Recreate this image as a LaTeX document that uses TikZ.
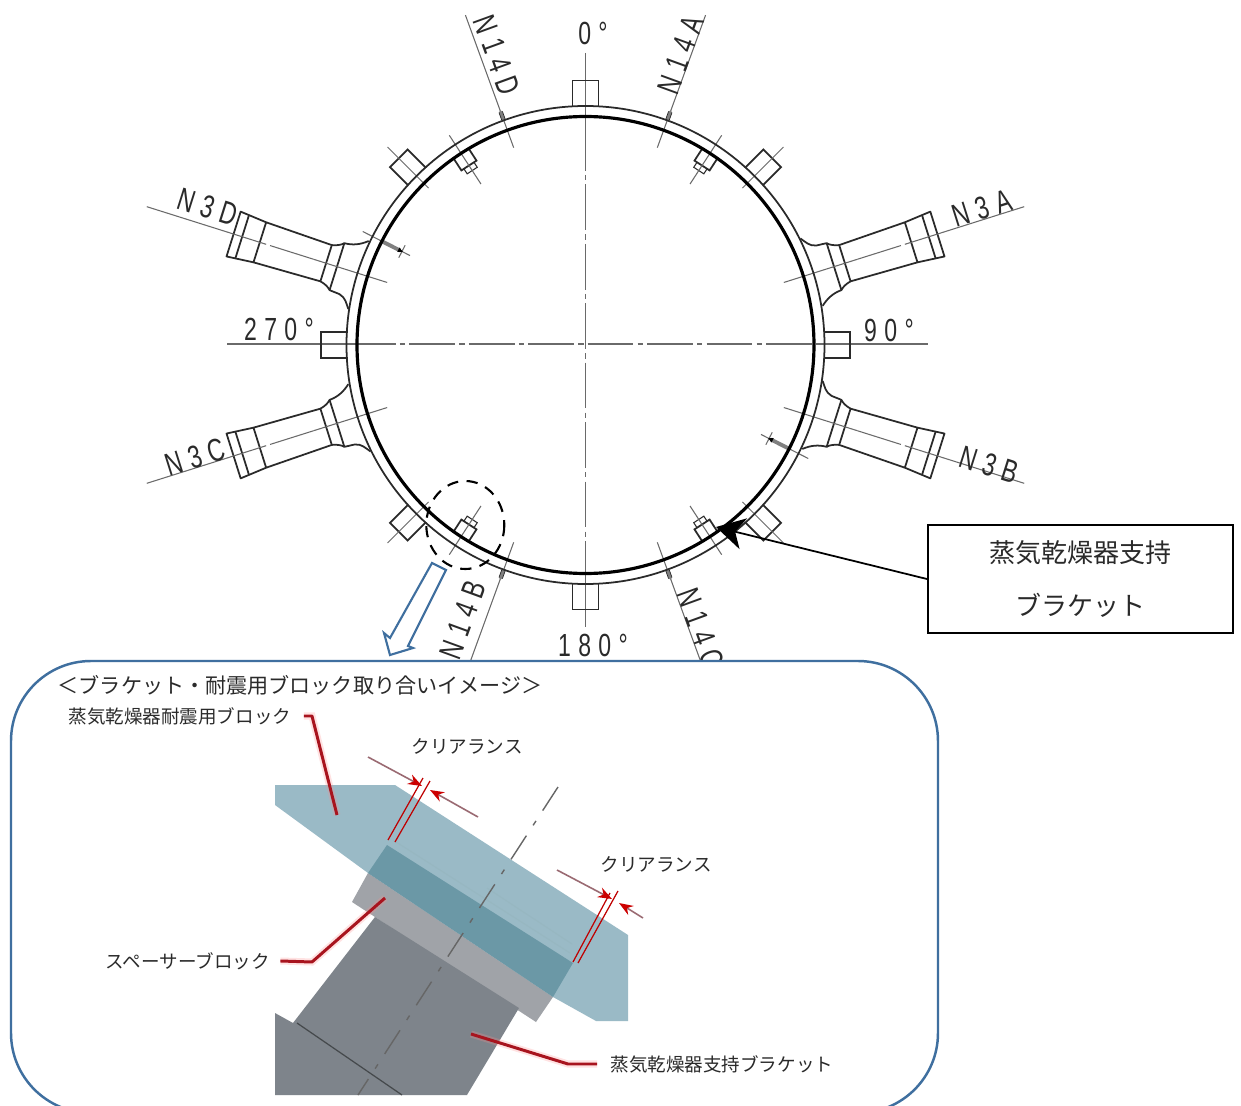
\documentclass[tikz,border=0pt]{standalone}
\usepackage{fontspec}
\setmainfont{Liberation Sans}
\newfontfamily\cjk{Noto Sans CJK JP}
\newfontfamily\techfont[LetterSpace=32]{Liberation Sans}
\usetikzlibrary{arrows.meta}
\definecolor{panelblue}{HTML}{3F6F9F}
\definecolor{blocklight}{HTML}{9ABAC6}
\definecolor{bandteal}{HTML}{6B98A6}
\definecolor{spacergray}{HTML}{A0A3A8}
\definecolor{bracketgray}{HTML}{7E848B}
\definecolor{leaderred}{HTML}{A8141E}
\definecolor{dimmuted}{HTML}{9A6A72}
\definecolor{inkdark}{HTML}{2A2A2A}
\tikzset{
  thinl/.style={draw=inkdark,line width=0.5pt},
  axisl/.style={draw=inkdark!70,line width=0.3pt},
  dashdotl/.style={axisl,dash pattern=on 13pt off 1.2pt on 1.5pt off 1.2pt},
  tech/.style={inner sep=0pt,text=inkdark,font=\fontsize{9.1}{11}\techfont},
  jp/.style={inner sep=0pt,text=inkdark,font=\fontsize{5.27}{7}\cjk},
  leader/.style={draw=leaderred,line width=0.85pt,line join=round,
    preaction={draw=red!45,line width=2pt,opacity=.25}},
  dimline/.style={draw=dimmuted,line width=0.45pt,-{Stealth[length=4pt,width=3pt,color=red!80!black]}},
  extl/.style={draw=red!75!black,line width=0.35pt},
}
\newcommand{\tk}[1]{\scalebox{.72}[1]{#1}}
% compass angle frame: local (w,-r)
\newcommand{\cardstub}[1]{\begin{scope}[shift={(585.5,345)},rotate=-#1]
  \draw[thinl] (-13,-238) -- (-13,-264.5) -- (13,-264.5) -- (13,-238);
\end{scope}}
\newcommand{\stub}[1]{\begin{scope}[shift={(585.5,345)},rotate=-#1]
  \draw[thinl] (-12.5,-238) -- (-12.5,-264) -- (12.5,-264) -- (12.5,-238);
  \draw[axisl] (0,-222) -- (0,-280);
\end{scope}}
\newcommand{\brk}[1]{\begin{scope}[shift={(585.5,345)},rotate=-#1]
  \draw[thinl] (-9,-228) -- (-9,-214) -- (9,-214) -- (9,-228);
  \draw[thinl,line width=.3pt] (-6,-214) -- (-6,-208) -- (6,-208) -- (6,-214);
  \draw[axisl] (0,-192) -- (0,-250);
\end{scope}}
\newcommand{\nfourteen}[1]{\begin{scope}[shift={(585.5,345)},rotate=-#1]
  \draw[axisl] (0,-210) -- (0,-351);
  \draw[draw=gray,line width=1pt,line cap=round] (0,-240) -- (0,-248);
  \draw[draw=inkdark,line width=.2pt] (-1.8,-240) -- (-1.8,-248) (1.8,-240) -- (1.8,-248);
\end{scope}}
\newcommand{\nozzle}[1]{\begin{scope}[shift={(585.5,345)},rotate=-#1]
  \draw[thinl,line join=round]
    (-37,-237) .. controls (-32,-241) and (-27,-243) .. (-25.5,-250)
    .. controls (-25,-254) and (-25,-258) .. (-24.6,-260.6)
    .. controls (-22,-263) and (-20,-267) .. (-19,-272)
    -- (-21,-341.5) -- (-23.5,-369) -- (23.5,-369) -- (21,-341.5) -- (19,-272)
    .. controls (20,-267) and (22,-263) .. (24.6,-260.6)
    .. controls (25,-252) and (28,-245) .. (34,-238);
  \draw[thinl] (-24.6,-260.6) -- (24.6,-260.6)
    (-19,-272) -- (19,-272)
    (-21,-341.5) -- (21,-341.5)
    (-23,-360) -- (23,-360);
  \draw[axisl] (0,-208) -- (0,-285);
  \draw[dashdotl] (0,-285) -- (0,-335);
  \draw[axisl] (0,-335) -- (0,-460);
\end{scope}}
\newcommand{\drain}[1]{\begin{scope}[shift={(585.5,345)},rotate=-#1]
  \draw[axisl] (0,-197) -- (0,-250);
  \draw[axisl] (-7,-206) -- (7,-206);
  \draw[draw=gray,line width=1.1pt] (0,-228) -- (0,-208);
  \fill[black] (0,-205) -- (-2.4,-210) -- (2.4,-210) -- cycle;
\end{scope}}
\begin{document}
\begin{tikzpicture}[x=0.01cm,y=-0.01cm]
\useasboundingbox (0,0) rectangle (1241,1106);
\clip (0,0) rectangle (1241,1106);
\fill[white] (0,0) rectangle (1241,1106);

% centre lines
\draw[axisl] (585.5,53) -- (585.5,125);
\draw[dashdotl] (585.5,125) -- (585.5,580);
\draw[axisl] (585.5,580) -- (585.5,627);
\draw[axisl] (227,344) -- (350,344);
\draw[dashdotl] (350,344) -- (820,344);
\draw[axisl] (820,344) -- (928,344);

% attachments
\cardstub{0}\cardstub{90}\cardstub{180}\cardstub{270}
\stub{45}\stub{135}\stub{225}\stub{315}
\brk{33}\brk{147}\brk{213}\brk{327}
\nfourteen{20}\nfourteen{160}\nfourteen{200}\nfourteen{340}
\nozzle{72.5}\nozzle{107.5}\nozzle{252.5}\nozzle{287.5}
\drain{117}\drain{297}

% vessel
\draw[thinl,line width=.5pt] (585.5,345) circle [radius=239];
\draw[draw=black,line width=.9pt] (585.5,345) circle [radius=228.5];

% labels
\node[tech] (l0) at (593,33) {\tk{0°}};
\node[tech] (l90) at (889,330) {\tk{90°}};
\node[tech] (l180) at (593,645) {\tk{180°}};
\node[tech] (l270) at (279,329) {\tk{270°}};
\node[tech,rotate=70] (n14a) at (681,55) {\tk{N14A}};
\node[tech,rotate=-70] (n14d) at (497,55) {\tk{N14D}};
\node[tech,rotate=70] (n14b) at (463,620) {\tk{N14B}};
\node[tech,rotate=-70] (n14c) at (701,628) {\tk{N14C}};
\node[tech,rotate=17.5] (n3a) at (982,208) {\tk{N3A}};
\node[tech,rotate=-17.5] (n3b) at (989,465) {\tk{N3B}};
\node[tech,rotate=17.5] (n3c) at (195,457) {\tk{N3C}};
\node[tech,rotate=-17.5] (n3d) at (208,207) {\tk{N3D}};

% dashed focus circle
\draw[draw=black,line width=.6pt,dash pattern=on 3.2pt off 2.4pt] (465.3,525) ellipse [x radius=39,y radius=44];

% callout
\node[draw=black,line width=.55pt,minimum width=3.05cm,minimum height=1.08cm,inner sep=0pt,align=center,
  text=inkdark,font=\fontsize{7.4}{14.8}\cjk] (callout) at (1080.5,579) {蒸気乾燥器支持\\ブラケット};
\coordinate (tip) at (716,527);
\draw[draw=black,line width=.5pt,-{Stealth[length=8pt,width=9pt,inset=2.4pt]}] (callout.west) -- (tip);

% panel
\draw[draw=panelblue,line width=.7pt,fill=white,rounded corners=0.8cm] (11,661) rectangle (938,1113);

% blue arrow
\draw[draw=panelblue,line width=.6pt,fill=white,line join=miter]
  (432,563) -- (446,570) -- (408,646) -- (413,648) -- (390,655) -- (384,633) -- (390,638) -- cycle;

% 3D image
\fill[blocklight] (275,785) -- (395,785) -- (628,935) -- (628,1021) -- (596,1021) -- (553,997) -- (368,873) -- (275,805) -- cycle;
\fill[spacergray] (368,873) -- (352,902) -- (536,1022) -- (553,997) -- cycle;
\fill[bracketgray] (375,917) -- (519,1008) -- (467,1095) -- (275,1095) -- (275,1013) -- (293,1023) -- cycle;
\fill[bandteal] (387,845) -- (573,963) -- (553,997) -- (368,873) -- cycle;
\draw[draw=bandteal!70!white,line width=.3pt] (393,840) -- (570,953);
\draw[draw=bandteal!70!white,line width=.3pt] (487,888) -- (572,944);
\draw[draw=bracketgray!55!black,line width=.35pt] (297,1023) -- (402,1095);
\draw[draw=gray!80!black,line width=.4pt,dash pattern=on 8pt off 3.5pt on 1.5pt off 3.5pt] (558,787) -- (358,1095);

% clearance dimensions
\coordinate (d1a) at (368,757);\coordinate (d1b) at (422,786);\coordinate (d1c) at (478,817);\coordinate (d1d) at (430,790);
\draw[dimline] (d1a) -- (d1b);
\draw[dimline] (d1c) -- (d1d);
\draw[extl] (388,840) -- (423,778) (395,842) -- (430,781);
\coordinate (d2a) at (557,870);\coordinate (d2b) at (612,899);\coordinate (d2c) at (643,918);\coordinate (d2d) at (619,903);
\draw[dimline] (d2a) -- (d2b);
\draw[dimline] (d2c) -- (d2d);
\draw[extl] (573,962) -- (610,893) (578,963) -- (618,891);

% panel texts
\node[jp,font=\fontsize{6.0}{8}\cjk,anchor=west] (title) at (57,685) {＜ブラケット・耐震用ブロック取り合いイメージ＞};
\node[jp,anchor=west] (tblock) at (68,716) {蒸気乾燥器耐震用ブロック};
\node[jp,anchor=west] (tclr1) at (411,746) {クリアランス};
\node[jp,anchor=west] (tclr2) at (600,864) {クリアランス};
\node[jp,anchor=west] (tspacer) at (105,961) {スペーサーブロック};
\node[jp,anchor=west] (tbracket) at (610,1064) {蒸気乾燥器支持ブラケット};

% leaders
\coordinate (lb1) at (312,716);\coordinate (lb2) at (337,815);
\draw[leader] (tblock.east)+(12,0) -- (lb1) -- (lb2);
\coordinate (ls1) at (312,962);\coordinate (ls2) at (385,898);
\draw[leader] (tspacer.east)+(10,0) -- (ls1) -- (ls2);
\coordinate (lc1) at (568,1064);\coordinate (lc2) at (471,1034);
\draw[leader] (tbracket.west)+(-13,0) -- (lc1) -- (lc2);
\end{tikzpicture}
\end{document}
